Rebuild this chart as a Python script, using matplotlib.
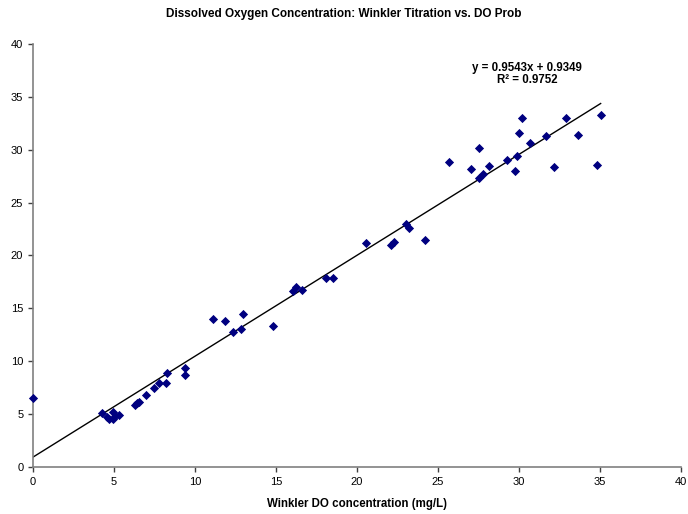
import matplotlib
matplotlib.use("Agg")
import matplotlib.pyplot as plt
import numpy as np

plt.rcParams['font.family'] = ['Liberation Sans', 'DejaVu Sans']

winkler = [0.0, 4.26, 4.55, 4.7, 4.96, 4.92, 5.06, 5.33, 6.3, 6.44, 6.56, 6.98, 7.47, 7.78,
           8.21, 8.25, 9.4, 9.4, 11.13, 11.85, 12.33, 12.84, 12.98, 14.83, 16.07, 16.23,
           16.58, 18.09, 18.5, 20.56, 22.08, 22.28, 23.02, 23.23, 24.2, 25.7, 27.04,
           27.55, 27.55, 27.76, 28.17, 29.24, 29.77, 29.9, 29.98, 30.19, 30.68, 31.67,
           32.18, 32.9, 33.62, 34.81, 35.04]
probe = [6.55, 5.13, 4.76, 4.5, 5.23, 4.5, 4.82, 4.95, 5.85, 6.05, 6.18, 6.78, 7.45, 7.9,
         7.9, 8.92, 9.35, 8.7, 13.95, 13.85, 12.75, 13.05, 14.5, 13.3, 16.6, 17.0,
         16.7, 17.9, 17.9, 21.2, 20.95, 21.3, 22.95, 22.6, 21.5, 28.85, 28.2,
         30.15, 27.3, 27.7, 28.5, 29.0, 28.0, 29.4, 31.6, 33.0, 30.6, 31.3,
         28.4, 33.0, 31.4, 28.55, 33.25]

slope = 0.9543
intercept = 0.9349
r2 = 0.9752

x_ticks = [0, 5, 10, 15, 20, 25, 30, 35, 40]
y_ticks = [0, 5, 10, 15, 20, 25, 30, 35, 40]

fig = plt.figure(figsize=(6.88, 5.14), dpi=100)
ax = fig.add_axes([33/688, 1-467/514, (681-33)/688, (467-44)/514])

ax.scatter(winkler, probe, marker='D', s=22, color='#000080', zorder=3, clip_on=False, linewidths=0)

xl = np.array([0, max(winkler)])
ax.plot(xl, slope*xl + intercept, color='black', lw=1.0, zorder=2)

ax.set_xlim(0, 40)
ax.set_ylim(0, 40)
ax.set_xticks(x_ticks)
ax.set_yticks(y_ticks)
ax.tick_params(labelsize=8, direction='out', length=3.5, color='#404040', width=1)
for s in ['top', 'right']:
    ax.spines[s].set_visible(False)
for s in ['left', 'bottom']:
    ax.spines[s].set_color('#808080')
    ax.spines[s].set_linewidth(1.2)

ax.set_xlabel('Winkler DO concentration (mg/L)', fontsize=8.3, fontweight='bold', labelpad=8)
fig.text(0.5, 1-14/514, 'Dissolved Oxygen Concentration: Winkler Titration vs. DO Prob',
         ha='center', va='center', fontsize=8.5, fontweight='bold')

ax.text(30.5, 37.2, f'y = {slope}x + {intercept}\nR\u00b2 = {r2}', ha='center', va='center',
        fontsize=8.3, fontweight='bold', linespacing=1.0, multialignment='center')

fig.savefig('out.png', dpi=100)
